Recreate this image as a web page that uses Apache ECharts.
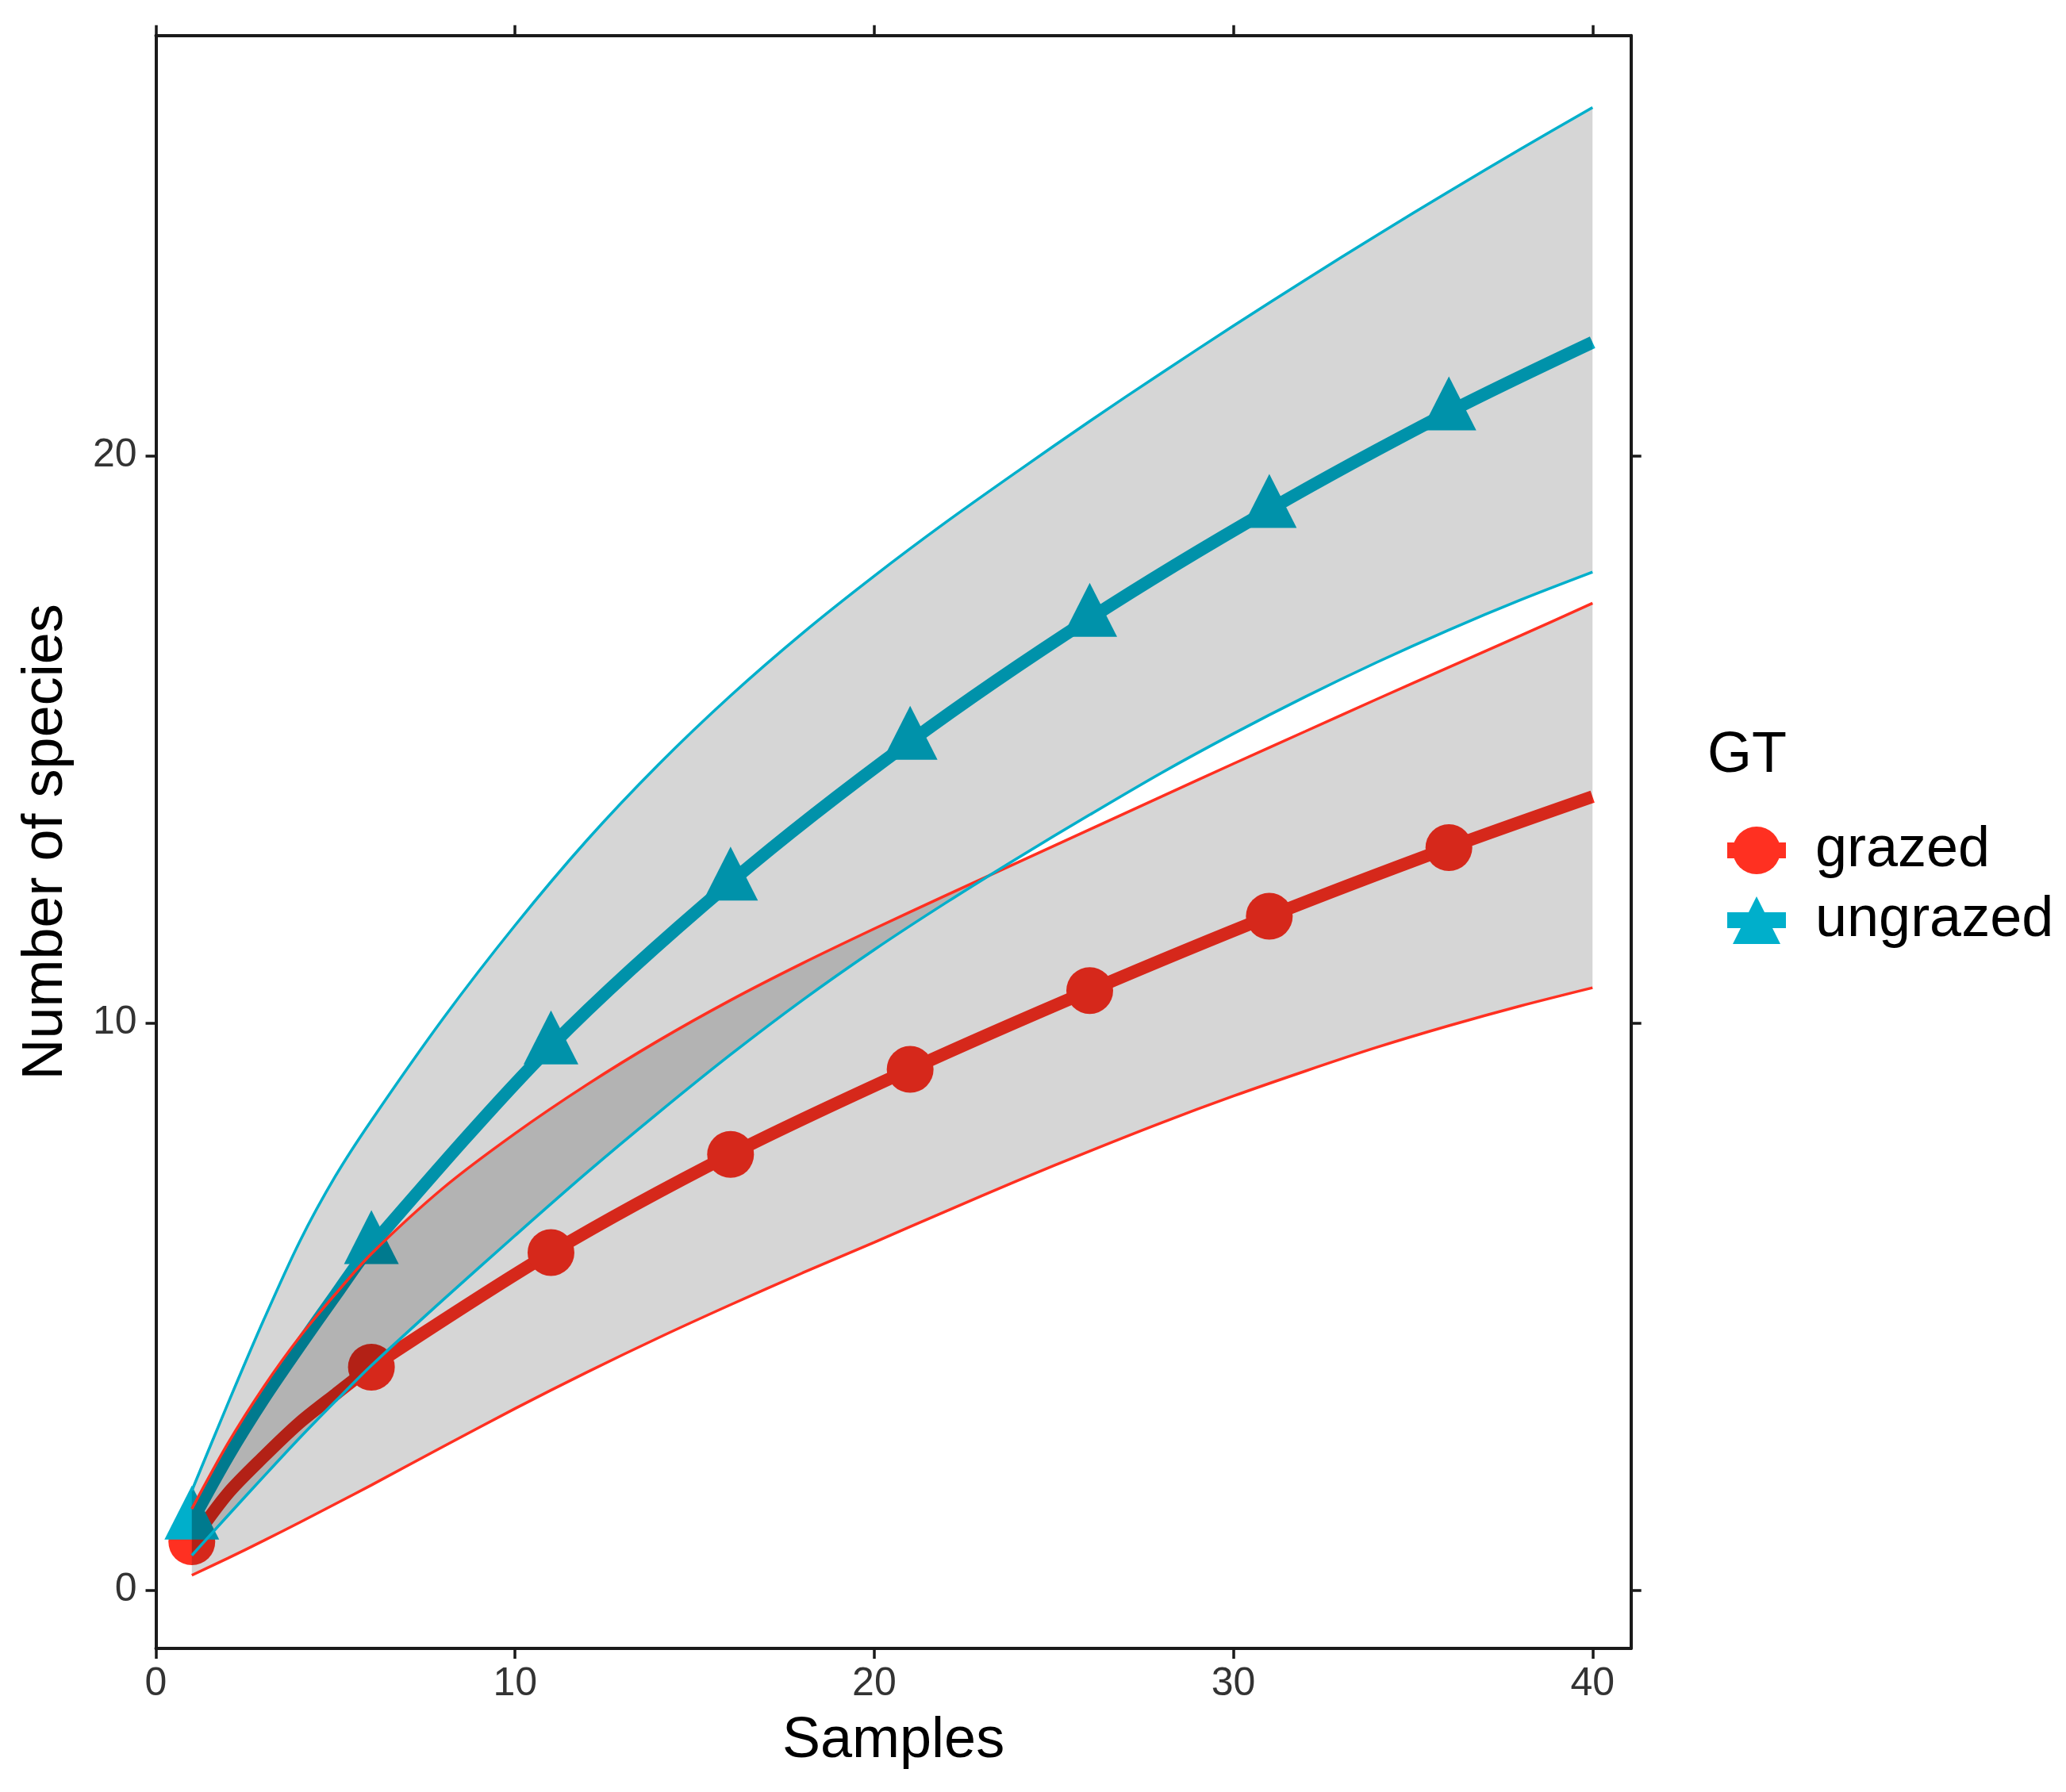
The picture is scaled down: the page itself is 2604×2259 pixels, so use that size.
<!DOCTYPE html>
<html>
<head>
<meta charset="utf-8">
<title>Species accumulation</title>
<script src="https://cdn.jsdelivr.net/npm/echarts@6/dist/echarts.min.js"></script>
<style>
  html, body { margin: 0; padding: 0; background: #fff; }
  #chart { width: 2604px; height: 2259px; }
</style>
</head>
<body>
<div id="chart"></div>
<script>
// mean curves, read at these sample sizes
const meanX = [1, 2, 3, 4, 5, 6, 11, 16, 21, 26, 31, 36, 40];
const grazedMean = [0.85, 1.7, 2.35, 2.95, 3.45, 3.93, 5.95, 7.68, 9.18, 10.57, 11.88, 13.09, 13.99];
const ungrazedMean = [1.21, 2.35, 3.37, 4.3, 5.2, 6.07, 9.59, 12.48, 14.96, 17.13, 19.05, 20.77, 22.0];
// samples carrying a marker
const markerX = [1, 6, 11, 16, 21, 26, 31, 36];

// confidence bands
const bandX = [1, 2, 3, 4, 5, 6, 8, 10, 12, 14, 16, 18, 20, 22, 24, 26, 28, 30, 32, 34, 36, 38, 40];
const grazedLower = [0.26, 0.56, 0.87, 1.19, 1.52, 1.85, 2.53, 3.2, 3.84, 4.45, 5.03, 5.59, 6.13, 6.68, 7.22, 7.74, 8.24, 8.71, 9.15, 9.57, 9.95, 10.3, 10.62];
const grazedUpper = [1.43, 2.58, 3.58, 4.46, 5.22, 5.93, 7.09, 8.05, 8.91, 9.69, 10.4, 11.05, 11.66, 12.25, 12.83, 13.41, 13.99, 14.57, 15.14, 15.71, 16.27, 16.83, 17.4];
const ungrazedLower = [0.61, 1.31, 2.0, 2.68, 3.33, 3.96, 5.12, 6.25, 7.36, 8.42, 9.44, 10.4, 11.29, 12.12, 12.91, 13.67, 14.41, 15.1, 15.75, 16.36, 16.93, 17.46, 17.95];
const ungrazedUpper = [1.75, 3.28, 4.76, 6.14, 7.3, 8.28, 10.08, 11.72, 13.22, 14.56, 15.77, 16.87, 17.88, 18.83, 19.73, 20.61, 21.46, 22.29, 23.1, 23.89, 24.66, 25.41, 26.14];

const xTicks = [0, 10, 20, 30, 40];
const yTicks = [0, 10, 20];

const RED = '#ff3021';
const CYAN = '#00afcb';
const AXIS = '#1a1a1a';
const FONT = '"Liberation Sans", Arial, Helvetica, sans-serif';
const SMOOTH = 0.3;

function meanData(ys) {
  return meanX.map((x, i) => markerX.includes(x) ? [x, ys[i]] : { value: [x, ys[i]], symbol: 'none' });
}

function meanSeries(name, ys, color, symbol, size, offset) {
  return {
    name: name, type: 'line', data: meanData(ys),
    smooth: SMOOTH,
    symbol: symbol, symbolSize: size, symbolOffset: offset, showAllSymbol: true,
    itemStyle: { color: color },
    lineStyle: { color: color, width: 16, cap: 'butt' },
    z: 2
  };
}

// band rows are written [value, sample] so the stack runs on the y values
function bandSeries(stack, lower, upper) {
  return [
    {
      type: 'line', stack: stack, silent: true, symbol: 'none',
      smooth: SMOOTH, encode: { x: 1, y: 0 },
      data: bandX.map((x, i) => [lower[i], x]),
      lineStyle: { opacity: 0 }, z: 3
    },
    {
      type: 'line', stack: stack, silent: true, symbol: 'none',
      smooth: SMOOTH, encode: { x: 1, y: 0 },
      data: bandX.map((x, i) => [upper[i] - lower[i], x]),
      lineStyle: { opacity: 0 },
      areaStyle: { color: 'rgba(0,0,0,0.16)', opacity: 1 }, z: 3
    }
  ];
}

function boundSeries(ys, color) {
  return {
    type: 'line', silent: true, symbol: 'none',
    smooth: SMOOTH,
    data: bandX.map((x, i) => [x, ys[i]]),
    lineStyle: { color: color, width: 3.5 }, z: 4
  };
}

function frameAxis(extra) {
  return Object.assign({
    type: 'value',
    splitLine: { show: false },
    axisLine: { show: true, onZero: false, lineStyle: { color: AXIS, width: 4 } },
    axisTick: { show: true, length: 13, lineStyle: { color: AXIS, width: 3.5 } },
    axisLabel: { show: false }
  }, extra);
}

const chart = echarts.init(document.getElementById('chart'), null, { renderer: 'canvas' });

chart.setOption({
  animation: false,
  backgroundColor: '#fff',
  textStyle: { fontFamily: FONT },
  title: {
    text: 'GT', left: 2152, top: 917, padding: 0,
    textStyle: { fontSize: 72, fontWeight: 'normal', color: '#000', fontFamily: FONT }
  },
  legend: {
    data: ['grazed', 'ungrazed'],
    orient: 'vertical', left: 2162, top: 1031,
    itemWidth: 74, itemHeight: 75, itemGap: 16,
    lineStyle: { width: 20, cap: 'butt' },
    textStyle: { fontSize: 72, color: '#000', fontFamily: FONT, padding: [0, 0, 0, 32] }
  },
  grid: { left: 196.5, right: 548.3, top: 44.8, bottom: 181 },
  xAxis: [
    frameAxis({
      position: 'bottom', min: 0, max: 41.07,
      name: 'Samples', nameLocation: 'middle', nameGap: 81,
      nameTextStyle: { fontSize: 72, color: '#000', fontFamily: FONT },
      axisTick: { show: true, length: 13, lineStyle: { color: AXIS, width: 3.5 }, customValues: xTicks },
      axisLabel: { show: true, customValues: xTicks, fontSize: 50, color: '#333', margin: 20, fontFamily: FONT }
    }),
    frameAxis({
      position: 'top', min: 0, max: 41.07,
      axisTick: { show: true, length: 13, lineStyle: { color: AXIS, width: 3.5 }, customValues: xTicks }
    })
  ],
  yAxis: [
    frameAxis({
      position: 'left', min: -1.03, max: 27.41,
      name: 'Number of species', nameLocation: 'middle', nameGap: 102, nameRotate: 90,
      nameTextStyle: { fontSize: 72, color: '#000', fontFamily: FONT },
      axisTick: { show: true, length: 13, lineStyle: { color: AXIS, width: 3.5 }, customValues: yTicks },
      axisLabel: { show: true, customValues: yTicks, fontSize: 50, color: '#333', margin: 24, fontFamily: FONT }
    }),
    frameAxis({
      position: 'right', min: -1.03, max: 27.41,
      axisTick: { show: true, length: 13, lineStyle: { color: AXIS, width: 3.5 }, customValues: yTicks }
    })
  ],
  series: [
    meanSeries('grazed', grazedMean, RED, 'circle', 59, [0, 0]),
    meanSeries('ungrazed', ungrazedMean, CYAN, 'triangle', [69, 68], [0, -11]),
    ...bandSeries('gBand', grazedLower, grazedUpper),
    ...bandSeries('uBand', ungrazedLower, ungrazedUpper),
    boundSeries(grazedLower, RED),
    boundSeries(grazedUpper, RED),
    boundSeries(ungrazedLower, CYAN),
    boundSeries(ungrazedUpper, CYAN)
  ]
});
</script>
</body>
</html>
